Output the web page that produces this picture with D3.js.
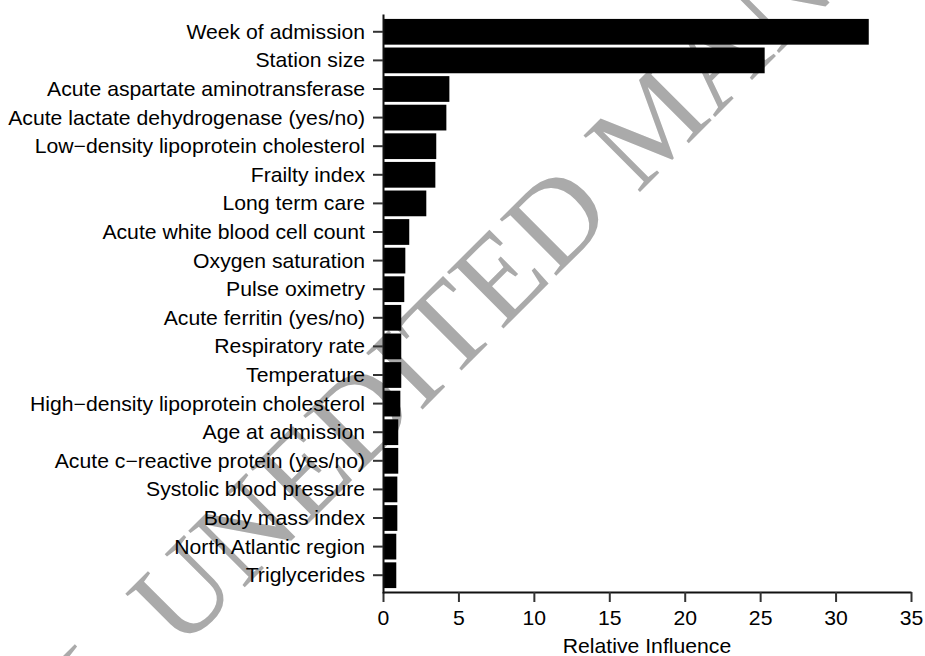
<!DOCTYPE html>
<html><head><meta charset="utf-8">
<script src="https://cdn.jsdelivr.net/npm/d3@7"></script>
<style>body{margin:0;background:#fff}</style>
</head><body>
<script>
const categories = ["Week of admission","Station size","Acute aspartate aminotransferase","Acute lactate dehydrogenase (yes/no)","Low\u2212density lipoprotein cholesterol","Frailty index","Long term care","Acute white blood cell count","Oxygen saturation","Pulse oximetry","Acute ferritin (yes/no)","Respiratory rate","Temperature","High\u2212density lipoprotein cholesterol","Age at admission","Acute c\u2212reactive protein (yes/no)","Systolic blood pressure","Body mass index","North Atlantic region","Triglycerides"];
const influence = [32.2,25.3,4.4,4.2,3.53,3.47,2.87,1.74,1.48,1.41,1.21,1.21,1.21,1.15,1.01,1.01,0.95,0.95,0.88,0.88];
const xTicks = [0,5,10,15,20,25,30,35];
const xTitle = "Relative Influence";

const W = 925, H = 656;
const FONT = "'Liberation Sans', Arial, Helvetica, sans-serif";
const FS = 20, SX = 1.06;
const svg = d3.select("body").append("svg").attr("width", W).attr("height", H)
  .style("font-family", FONT);

// watermark (behind everything)
const wm = svg.append("g").attr("transform", "translate(180,652) rotate(-45)")
  .attr("fill", "#aaaaaa").style("font-family", "'Liberation Serif','DejaVu Serif',serif").style("font-size", "122px");
wm.append("text").attr("x", 0).text("UNEDITED MANUSCRIPT");
wm.append("text").attr("x", -32).attr("text-anchor", "end").text("FINAL");

const x = d3.scaleLinear().domain([0, 35]).range([383, 911]);
const y = d3.scaleBand().domain(categories).range([14, 593]).paddingInner(0.1).paddingOuter(0.172);

svg.append("g").selectAll("rect").data(categories).join("rect")
  .attr("x", x(0)).attr("y", d => y(d))
  .attr("width", (d, i) => x(influence[i]) - x(0))
  .attr("height", y.bandwidth()).attr("fill", "#000");

const xAxis = svg.append("g").attr("transform", "translate(0,592)")
  .call(d3.axisBottom(x).tickValues(xTicks).tickSize(10).tickSizeOuter(0));
xAxis.select(".domain").attr("stroke", "#111").attr("stroke-width", 2);
xAxis.selectAll(".tick line").attr("stroke", "#333").attr("stroke-width", 2);
xAxis.selectAll(".tick text").attr("fill", "#000").attr("y", 33).attr("dy", null)
  .attr("transform", `scale(${SX},1)`)
  .style("font-size", FS + "px").style("font-family", FONT);

const yAxis = svg.append("g").attr("transform", "translate(383,0)")
  .call(d3.axisLeft(y).tickSize(10).tickSizeOuter(0));
yAxis.select(".domain").attr("stroke", "#111").attr("stroke-width", 2);
yAxis.selectAll(".tick line").attr("stroke", "#333").attr("stroke-width", 2);
yAxis.selectAll(".tick text").attr("fill", "#000").attr("x", -18 / SX).attr("dy", "0.35em")
  .attr("transform", `scale(${SX},1)`)
  .style("font-size", FS + "px").style("font-family", FONT);

svg.append("text").attr("transform", `translate(${x(17.5)},653) scale(${SX},1)`).attr("text-anchor", "middle")
  .style("font-size", FS + "px").attr("fill", "#000").text(xTitle);
</script>
</body></html>
